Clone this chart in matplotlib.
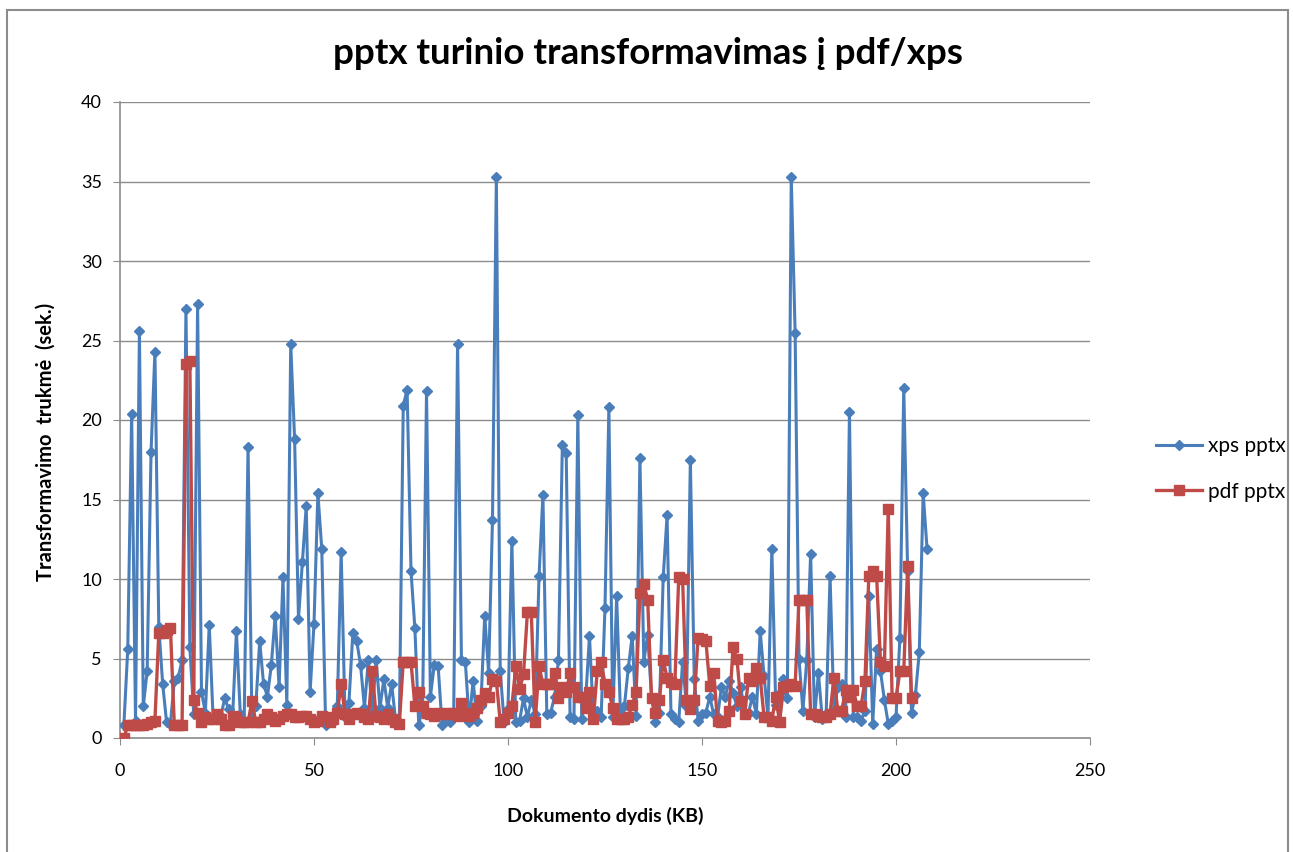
import numpy as np
import matplotlib.pyplot as plt
from matplotlib.patches import Rectangle

# values (seconds), one point per KB step
xps_pptx = [
    0.8, 5.6, 20.4, 1.1, 25.6, 2.0, 4.2, 18.0, 24.3, 7.0,
    3.4, 1.0, 0.9, 3.6, 3.8, 4.9, 27.0, 5.7, 1.5, 27.3,
    2.9, 1.6, 7.1, 1.2, 1.5, 1.4, 2.5, 1.8, 1.2, 6.7,
    1.5, 1.0, 18.3, 1.2, 2.0, 6.1, 3.4, 2.6, 4.6, 7.7,
    3.2, 10.1, 2.1, 24.8, 18.8, 7.5, 11.1, 14.6, 2.9, 7.2,
    15.4, 11.9, 0.8, 1.2, 1.0, 2.0, 11.7, 1.3, 2.2, 6.6,
    6.1, 4.6, 1.9, 4.9, 1.5, 4.9, 1.9, 3.7, 1.9, 3.4,
    1.2, 1.0, 20.9, 21.9, 10.5, 6.9, 0.8, 2.0, 21.8, 2.6,
    4.6, 4.5, 0.8, 1.2, 1.0, 1.5, 24.8, 4.9, 4.8, 1.0,
    3.6, 1.1, 2.0, 7.7, 4.1, 13.7, 35.3, 4.2, 1.0, 1.8,
    12.4, 1.0, 1.1, 2.5, 1.3, 2.4, 1.5, 10.2, 15.3, 1.5,
    1.6, 2.6, 4.9, 18.4, 17.9, 1.3, 1.2, 20.3, 1.2, 2.4,
    6.4, 1.3, 1.7, 1.3, 8.2, 20.8, 1.3, 8.9, 1.4, 2.0,
    4.4, 6.4, 1.4, 17.6, 4.8, 6.5, 2.5, 1.0, 1.6, 10.1,
    14.0, 1.5, 1.2, 1.0, 4.8, 2.0, 17.5, 3.7, 1.1, 1.5,
    1.6, 2.6, 1.5, 1.3, 3.2, 2.6, 3.6, 2.8, 2.0, 3.2,
    1.5, 1.6, 2.6, 1.5, 6.7, 3.9, 1.3, 11.9, 2.1, 2.8,
    3.7, 2.5, 35.3, 25.5, 5.0, 1.7, 4.9, 11.6, 1.3, 4.1,
    1.2, 1.5, 10.2, 1.7, 3.2, 3.4, 1.3, 20.5, 1.3, 1.3,
    1.1, 1.7, 8.9, 0.9, 5.6, 4.2, 2.4, 0.9, 1.1, 1.3,
    6.3, 22.0, 10.5, 1.6, 2.7, 5.4, 15.4, 11.9,
]
pdf_pptx = [
    0.0, 0.8, 0.8, 0.8, 0.8, 0.8, 0.9, 1.0, 1.1, 6.6,
    6.6, 6.8, 6.9, 0.8, 0.8, 0.8, 23.5, 23.7, 2.4, 1.6,
    1.0, 1.3, 1.2, 1.2, 1.5, 1.2, 0.8, 0.8, 1.4, 1.3,
    1.0, 1.0, 1.0, 2.3, 1.0, 1.0, 1.2, 1.5, 1.3, 1.1,
    1.2, 1.4, 1.5, 1.5, 1.3, 1.3, 1.4, 1.4, 1.2, 1.0,
    1.1, 1.4, 1.3, 1.0, 1.2, 1.6, 3.4, 1.5, 1.2, 1.5,
    1.6, 1.5, 1.3, 1.2, 4.2, 1.4, 1.3, 1.2, 1.5, 1.2,
    1.0, 0.9, 4.8, 4.8, 4.8, 2.0, 2.9, 2.0, 1.6, 1.5,
    1.4, 1.6, 1.5, 1.6, 1.5, 1.6, 1.4, 2.2, 1.5, 1.4,
    1.6, 1.9, 2.4, 2.8, 2.6, 3.7, 3.6, 1.0, 1.2, 1.6,
    2.0, 4.5, 3.1, 4.0, 7.9, 7.9, 1.0, 4.5, 3.4, 3.4,
    3.4, 4.1, 2.5, 3.2, 2.9, 4.1, 3.2, 2.6, 2.6, 1.9,
    2.9, 1.2, 4.2, 4.8, 3.4, 2.9, 1.9, 1.2, 1.2, 1.2,
    1.3, 2.1, 2.9, 9.1, 9.7, 8.7, 2.5, 1.6, 2.4, 4.9,
    3.8, 3.5, 3.4, 10.1, 10.0, 2.4, 1.8, 2.4, 6.3, 6.2,
    6.1, 3.3, 4.1, 1.1, 1.0, 1.1, 1.7, 5.7, 5.0, 2.3,
    1.5, 3.8, 3.6, 4.4, 3.8, 1.3, 1.3, 1.1, 2.6, 1.0,
    3.2, 3.3, 3.4, 3.3, 8.7, 8.7, 8.7, 1.5, 1.5, 1.4,
    1.3, 1.3, 1.5, 3.8, 1.7, 1.7, 3.0, 2.6, 3.0, 2.0,
    2.0, 3.6, 10.2, 10.5, 10.2, 4.8, 4.5, 14.4, 2.5, 2.5,
    4.2, 4.2, 10.8, 2.5,
]
x_xps = np.arange(1, len(xps_pptx) + 1)
x_pdf = np.arange(1, len(pdf_pptx) + 1)

BLUE = "#4a7ebb"
RED = "#be4b48"

plt.rcParams["font.family"] = ["Lato", "DejaVu Sans"]

fig = plt.figure(figsize=(12.93, 8.52), dpi=100)
fig.patches.append(Rectangle((7 / 1293, -0.02), 1281 / 1293, 1.02 - 10 / 852,
                             transform=fig.transFigure, fill=False,
                             edgecolor="#8c8c8c", lw=1.5))

ax = fig.add_axes([120 / 1293, 1 - 738 / 852, 970 / 1293, 636 / 852])
ax.plot(x_xps, xps_pptx, color=BLUE, lw=2.2, marker="D", ms=5,
        label="xps pptx", zorder=3)
ax.plot(x_pdf, pdf_pptx, color=RED, lw=2.4, marker="s", ms=6.5,
        label="pdf pptx", zorder=4)

ax.set_xlim(0, 250)
ax.set_ylim(0, 40)
ax.set_xticks(range(0, 251, 50))
ax.set_yticks(range(0, 41, 5))
ax.yaxis.grid(True, color="#8c8c8c", lw=1.0)
ax.set_axisbelow(True)
for side in ["top", "right"]:
    ax.spines[side].set_visible(False)
for side in ["left", "bottom"]:
    ax.spines[side].set_color("#8c8c8c")
    ax.spines[side].set_linewidth(1.2)
ax.tick_params(axis="both", direction="out", length=5, color="#8c8c8c",
               labelsize=13, pad=8)
ax.tick_params(axis="x", pad=13)

ax.set_xlabel("Dokumento dydis (KB)", fontsize=14, fontweight="bold", labelpad=20)
ax.set_ylabel("Transformavimo  trukmė  (sek.)", fontsize=14.5, fontweight="bold")
ax.yaxis.set_label_coords(-64 / 970, 0.465)
fig.text(648 / 1293, 1 - 53 / 852, "pptx turinio transformavimas į pdf/xps",
         ha="center", va="center", fontsize=26.5, fontweight="bold")

fig.legend(loc="center left", bbox_to_anchor=(1137 / 1293, 1 - 469 / 852),
           frameon=False, fontsize=15, handlelength=2.2, labelspacing=1.2,
           handletextpad=0.3)

fig.savefig("out.png", dpi=100, facecolor="white")
